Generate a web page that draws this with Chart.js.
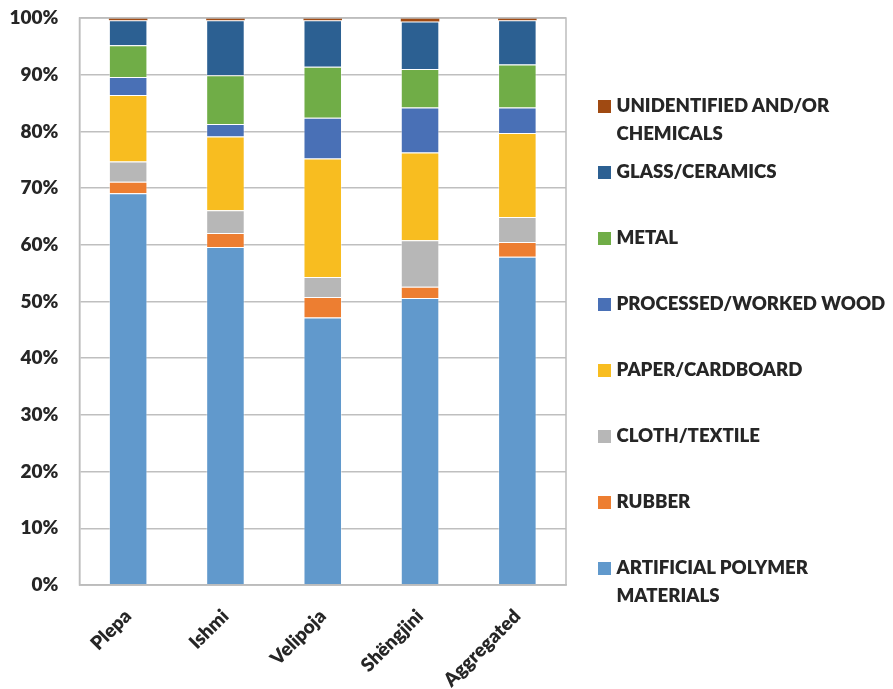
<!DOCTYPE html>
<html>
<head>
<meta charset="utf-8">
<script src="https://cdn.jsdelivr.net/npm/chart.js@4.4.1/dist/chart.umd.min.js"></script>
<style>
  body { margin: 0; background: #fff; }
  #wrap { position: relative; width: 893px; height: 689px; }
  #legend { position: absolute; left: 0; top: 0; }
  .item { position: absolute; left: 598px; font: 800 18.6px Lato, sans-serif; color: #262626; line-height: 27.5px; }
  .item .box { position: absolute; left: 0; top: 7.5px; width: 13px; height: 13px; }
  .item .txt { margin-left: 18.5px; white-space: nowrap; }
</style>
</head>
<body>
<div id="wrap">
  <canvas id="myChart" width="893" height="689"></canvas>
  <div id="legend"></div>
</div>
<script>
const sites = ["Plepa", "Ishmi", "Velipoja", "Shëngjini", "Aggregated"];
const yTicks = [0, 10, 20, 30, 40, 50, 60, 70, 80, 90, 100];

// share of each material per site, %
const polymer = [69.1, 59.6, 47.2, 50.6, 57.9];
const rubber = [2.0, 2.5, 3.6, 2.0, 2.6];
const cloth = [3.6, 4.0, 3.5, 8.2, 4.4];
const paper = [11.7, 13.0, 20.9, 15.5, 14.8];
const wood = [3.2, 2.2, 7.2, 7.9, 4.5];
const metal = [5.6, 8.6, 9.0, 6.8, 7.6];
const glass = [4.4, 9.7, 8.2, 8.4, 7.8];
const unidentified = [0.4, 0.4, 0.4, 0.6, 0.4];

const series = [
  { label: ["ARTIFICIAL POLYMER", "MATERIALS"], data: polymer, color: "#6199cc" },
  { label: ["RUBBER"], data: rubber, color: "#ed7e31" },
  { label: ["CLOTH/TEXTILE"], data: cloth, color: "#b7b7b7" },
  { label: ["PAPER/CARDBOARD"], data: paper, color: "#f8bd20" },
  { label: ["PROCESSED/WORKED WOOD"], data: wood, color: "#4970b6" },
  { label: ["METAL"], data: metal, color: "#70ad47" },
  { label: ["GLASS/CERAMICS"], data: glass, color: "#2c6092" },
  { label: ["UNIDENTIFIED AND/OR", "CHEMICALS"], data: unidentified, color: "#a04a12" },
];

const tickFont = { family: "Lato, sans-serif", size: 19, weight: "800" };

// gray frame round the plot area
const plotFrame = {
  id: "plotFrame",
  afterDatasetsDraw(chart) {
    const a = chart.chartArea;
    const ctx = chart.ctx;
    ctx.save();
    ctx.strokeStyle = "#bdbdbd";
    ctx.lineWidth = 1.5;
    ctx.strokeRect(a.left, a.top, a.right - a.left, a.bottom - a.top);
    ctx.restore();
  },
};

const ctx = document.getElementById("myChart").getContext("2d");
new Chart(ctx, {
  type: "bar",
  data: {
    labels: sites,
    datasets: series.map((s, i) => ({
      label: s.label.join(" "),
      data: s.data,
      backgroundColor: s.color,
      borderColor: "rgba(255,255,255,0.4)",
      // the thin top layer would vanish under a border
      borderWidth: i === series.length - 1 ? 0 : 1,
      categoryPercentage: 1,
      barPercentage: 0.396,
    })),
  },
  options: {
    responsive: false,
    animation: false,
    layout: { padding: { top: 18, right: 327, left: 0, bottom: 0 } },
    plugins: { legend: { display: false }, tooltip: { enabled: false } },
    scales: {
      x: {
        stacked: true,
        grid: { display: false },
        border: { color: "#bdbdbd", width: 1.5 },
        ticks: {
          color: "#262626",
          font: tickFont,
          minRotation: 45,
          maxRotation: 45,
          padding: 12,
        },
        afterFit: (s) => { s.height = 104; },
      },
      y: {
        stacked: true,
        min: 0,
        max: 100,
        afterBuildTicks: (s) => { s.ticks = yTicks.map((v) => ({ value: v })); },
        grid: { color: "#bfbfbf", lineWidth: 1.5, drawTicks: false },
        border: { color: "#bdbdbd", width: 1.5 },
        ticks: {
          color: "#262626",
          font: tickFont,
          padding: 21,
          callback: (v) => v + "%",
        },
        // fixed axis width, and no extra room above the 100% line
        afterFit: (s) => { s.width = 79.5; s.paddingTop = 0; s.paddingBottom = 0; },
      },
    },
  },
  plugins: [plotFrame],
});

// legend on the right, top entry first
const legend = document.getElementById("legend");
series.slice().reverse().forEach((s, i) => {
  const item = document.createElement("div");
  item.className = "item";
  item.style.top = 106 + 66 * i - 13.75 + "px";
  item.innerHTML =
    '<span class="box" style="background:' + s.color + '"></span>' +
    '<div class="txt">' + s.label.join("<br>") + "</div>";
  legend.appendChild(item);
});
</script>
</body>
</html>
